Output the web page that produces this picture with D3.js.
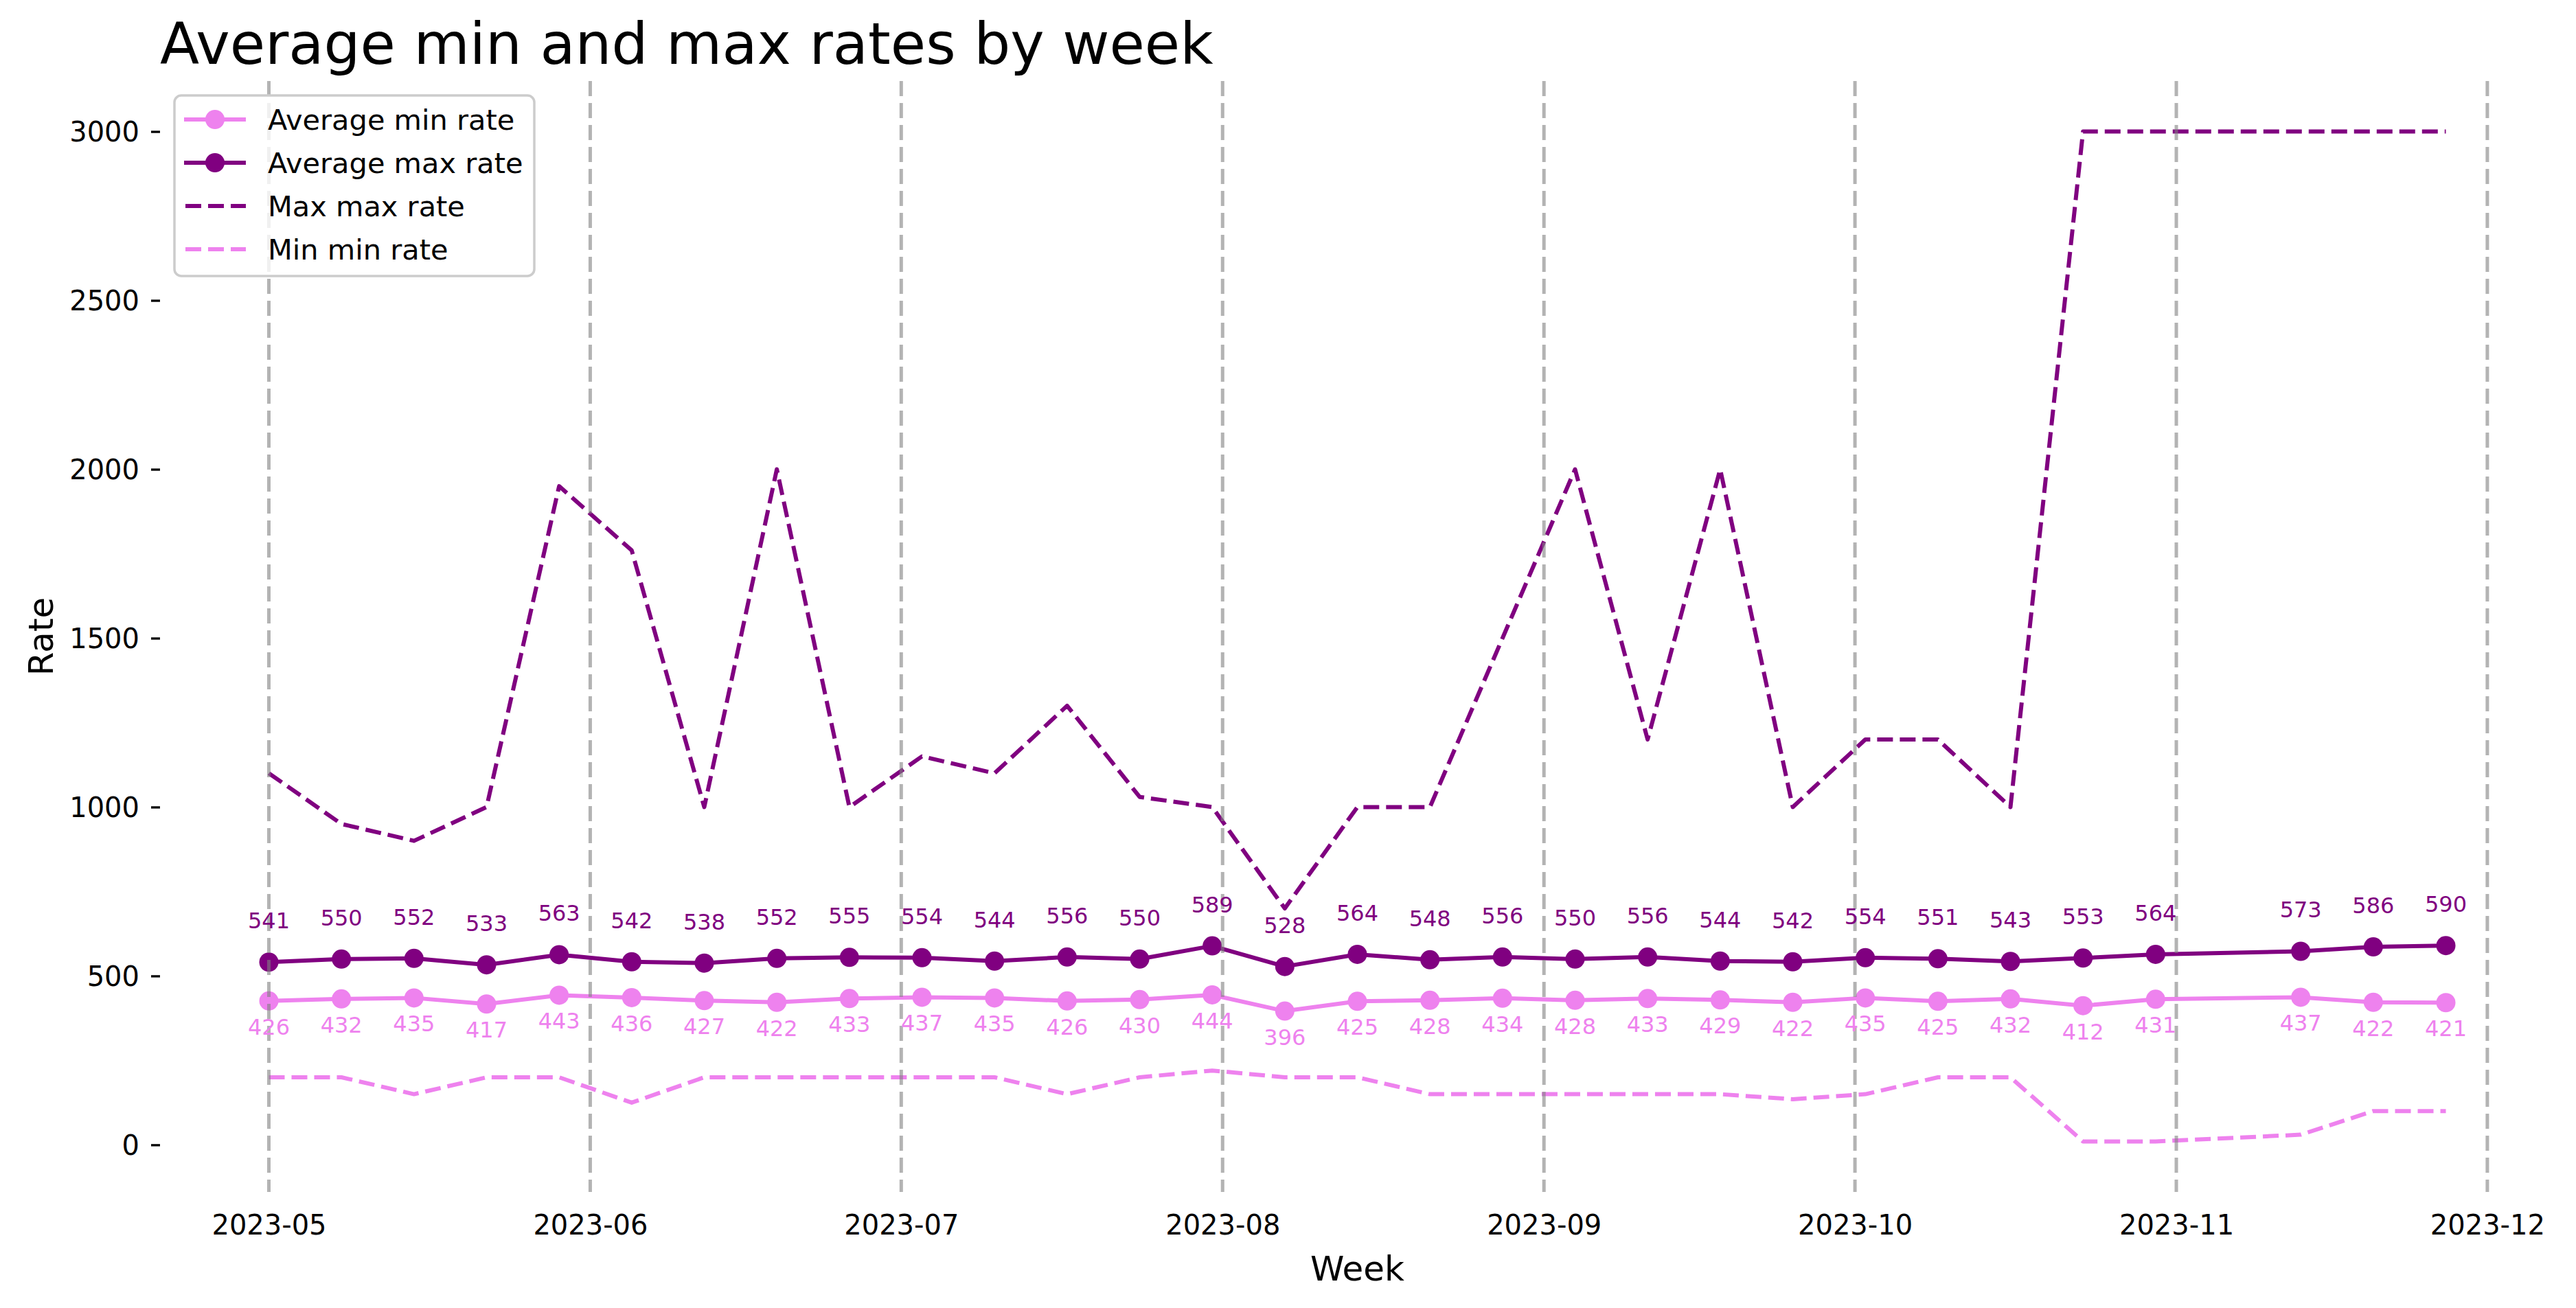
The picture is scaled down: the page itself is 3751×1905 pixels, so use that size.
<!DOCTYPE html>
<html>
<head>
<meta charset="utf-8">
<script src="https://cdn.jsdelivr.net/npm/d3@7/dist/d3.min.js"></script>
<style>
  html, body { margin: 0; padding: 0; background: #fff; }
  svg { display: block; font-family: "DejaVu Sans", sans-serif; }
</style>
</head>
<body>
<svg id="chart" width="3751" height="1905"></svg>
<script>
// ---- Data ----
const weeks = [
  "2023-05-01","2023-05-08","2023-05-15","2023-05-22","2023-05-29",
  "2023-06-05","2023-06-12","2023-06-19","2023-06-26",
  "2023-07-03","2023-07-10","2023-07-17","2023-07-24","2023-07-31",
  "2023-08-07","2023-08-14","2023-08-21","2023-08-28",
  "2023-09-04","2023-09-11","2023-09-18","2023-09-25",
  "2023-10-02","2023-10-09","2023-10-16","2023-10-23","2023-10-30",
  "2023-11-13","2023-11-20","2023-11-27"
];
const avgMinRate = [426,432,435,417,443,436,427,422,433,437,435,426,430,444,396,425,428,434,428,433,429,422,435,425,432,412,431,437,422,421];
const avgMaxRate = [541,550,552,533,563,542,538,552,555,554,544,556,550,589,528,564,548,556,550,556,544,542,554,551,543,553,564,573,586,590];
const maxMaxRate = [1100,950,900,1000,1950,1760,1000,2000,1000,1150,1100,1300,1030,1000,700,1000,1000,1500,2000,1200,2000,1000,1200,1200,1000,3000,3000,3000,3000,3000];
const minMinRate = [200,200,150,200,200,125,200,200,200,200,200,150,200,220,200,200,150,150,150,150,150,135,150,200,200,10,10,30,100,100];
const monthTicks = ["2023-05-01","2023-06-01","2023-07-01","2023-08-01","2023-09-01","2023-10-01","2023-11-01","2023-12-01"];
const yTicks = [0,500,1000,1500,2000,2500,3000];
const seriesNames = ["Average min rate","Average max rate","Max max rate","Min min rate"];

const VIOLET = "#ee82ee", PURPLE = "#800080";

// ---- Layout ----
const L = 233, R = 3720, T = 118, B = 1736;
const parse = d3.utcParse("%Y-%m-%d");
const dates = weeks.map(parse);
const ticksD = monthTicks.map(parse);

const x0 = dates[0].getTime(), x1 = dates[dates.length-1].getTime();
const xm = (x1 - x0) * 0.05;
const x = d3.scaleUtc().domain([new Date(x0 - xm), new Date(x1 + xm)]).range([L, R]);
const yMinV = 10, yMaxV = 3000, ym = (yMaxV - yMinV) * 0.05;
const y = d3.scaleLinear().domain([yMinV - ym, yMaxV + ym]).range([B, T]);

const svg = d3.select("#chart");

// ---- Axes ----
const xAxis = d3.axisBottom(x).tickValues(ticksD).tickFormat(d3.utcFormat("%Y-%m")).tickSize(0).tickPadding(0);
const gx = svg.append("g").attr("transform", `translate(0,${B})`).call(xAxis);
gx.select(".domain").remove();
gx.selectAll("text").attr("font-size", 40).attr("fill", "#000")
  .attr("font-family", "DejaVu Sans").attr("dy", null).attr("y", 62);

const yAxis = d3.axisLeft(y).tickValues(yTicks).tickFormat(d3.format("d")).tickSize(13).tickPadding(17);
const gy = svg.append("g").attr("transform", `translate(${L},0)`).call(yAxis);
gy.select(".domain").remove();
gy.selectAll("line").attr("stroke", "#000").attr("stroke-width", 3.3);
gy.selectAll("text").attr("font-size", 40).attr("fill", "#000")
  .attr("font-family", "DejaVu Sans").attr("dy", "0.35em");

// ---- Lines ----
const pts = (vals) => vals.map((v, i) => [dates[i], v]);
const line = d3.line().x(d => x(d[0])).y(d => y(d[1]));

function drawSeries(vals, color, dashed, markers) {
  svg.append("path").attr("d", line(pts(vals)))
    .attr("fill", "none").attr("stroke", color).attr("stroke-width", 6)
    .attr("stroke-linejoin", "round")
    .attr("stroke-dasharray", dashed ? "23,10" : null);
  if (markers) {
    svg.append("g").selectAll("circle").data(pts(vals)).join("circle")
      .attr("cx", d => x(d[0])).attr("cy", d => y(d[1])).attr("r", 14)
      .attr("fill", color);
  }
}
drawSeries(avgMinRate, VIOLET, false, true);
drawSeries(avgMaxRate, PURPLE, false, true);
drawSeries(maxMaxRate, PURPLE, true, false);
drawSeries(minMinRate, VIOLET, true, false);

// ---- Vertical month lines ----
svg.append("g").selectAll("line").data(ticksD).join("line")
  .attr("x1", d => x(d)).attr("x2", d => x(d)).attr("y1", T).attr("y2", B)
  .attr("stroke", "#808080").attr("stroke-opacity", 0.6).attr("stroke-width", 5)
  .attr("stroke-dasharray", "22,10");

// ---- Value labels ----
svg.append("g").selectAll("text").data(pts(avgMaxRate)).join("text")
  .attr("x", d => x(d[0])).attr("y", d => y(d[1]) - 49)
  .attr("text-anchor", "middle").attr("font-size", 32).attr("fill", PURPLE)
  .text(d => d[1]);
svg.append("g").selectAll("text").data(pts(avgMinRate)).join("text")
  .attr("x", d => x(d[0])).attr("y", d => y(d[1]) + 49)
  .attr("text-anchor", "middle").attr("font-size", 32).attr("fill", VIOLET)
  .text(d => d[1]);

// ---- Titles ----
svg.append("text").attr("x", L).attr("y", 93).attr("font-size", 83.5).attr("fill", "#000")
  .text("Average min and max rates by week");
svg.append("text").attr("x", (L + R) / 2).attr("y", 1865).attr("text-anchor", "middle")
  .attr("font-size", 50).attr("fill", "#000").text("Week");
svg.append("text").attr("transform", `translate(77,${(T + B) / 2}) rotate(-90)`)
  .attr("text-anchor", "middle").attr("font-size", 50).attr("fill", "#000").text("Rate");

// ---- Legend ----
const lg = svg.append("g");
lg.append("rect").attr("x", 254).attr("y", 139).attr("width", 524).attr("height", 263)
  .attr("rx", 10).attr("fill", "#fff").attr("fill-opacity", 0.8)
  .attr("stroke", "#cccccc").attr("stroke-width", 3.5);
const legendItems = [
  {name: seriesNames[0], color: VIOLET, dashed: false},
  {name: seriesNames[1], color: PURPLE, dashed: false},
  {name: seriesNames[2], color: PURPLE, dashed: true},
  {name: seriesNames[3], color: VIOLET, dashed: true}
];
const lgY = [174, 237, 300, 363];
legendItems.forEach((it, i) => {
  const cy = lgY[i];
  lg.append("line").attr("x1", 268).attr("x2", 358).attr("y1", cy).attr("y2", cy)
    .attr("stroke", it.color).attr("stroke-width", 6)
    .attr("stroke-dasharray", it.dashed ? "23,10" : null)
    .attr("stroke-dashoffset", it.dashed ? -2 : null);
  if (!it.dashed) lg.append("circle").attr("cx", 313).attr("cy", cy).attr("r", 14).attr("fill", it.color);
  lg.append("text").attr("x", 390).attr("y", cy + 15).attr("font-size", 41.5).attr("fill", "#000").text(it.name);
});
</script>
</body>
</html>
